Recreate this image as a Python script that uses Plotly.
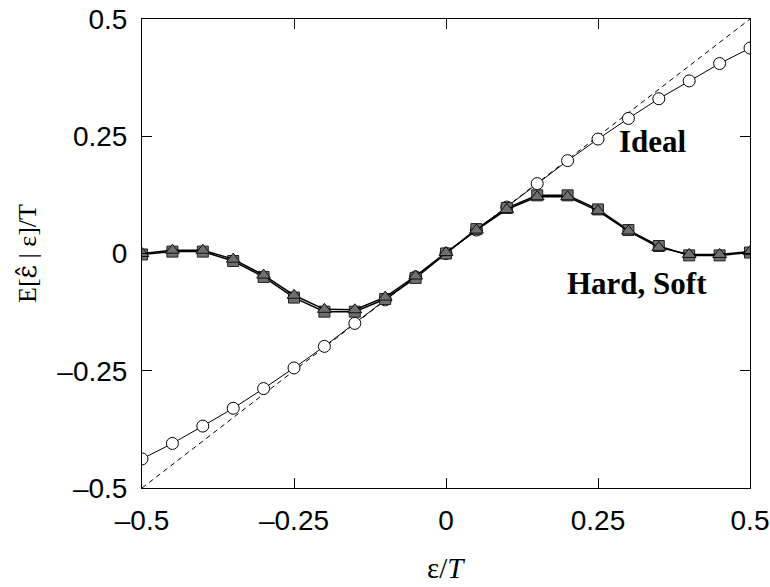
import plotly.graph_objects as go

x_vals = [-0.5, -0.45, -0.4, -0.35, -0.3, -0.25, -0.2, -0.15, -0.1, -0.05, 0.0,
          0.05, 0.1, 0.15, 0.2, 0.25, 0.3, 0.35, 0.4, 0.45, 0.5]
ideal = [-0.438, -0.405, -0.368, -0.330, -0.288, -0.244, -0.198, -0.149, -0.099, -0.050, 0.0,
         0.050, 0.099, 0.149, 0.198, 0.244, 0.288, 0.330, 0.368, 0.405, 0.438]
hard = [-0.002, 0.004, 0.004, -0.016, -0.050, -0.094, -0.124, -0.124, -0.097, -0.052, 0.0,
        0.052, 0.097, 0.124, 0.124, 0.094, 0.050, 0.016, -0.004, -0.004, 0.002]
soft = [0.0, 0.007, 0.007, -0.012, -0.046, -0.089, -0.119, -0.120, -0.093, -0.048, 0.002,
        0.050, 0.094, 0.121, 0.121, 0.091, 0.048, 0.013, -0.002, -0.002, 0.004]
diag_x = [-0.5, 0.5]
diag_y = [-0.5, 0.5]

tick_vals = [-0.5, -0.25, 0, 0.25, 0.5]
tick_text = ["\u20130.5", "\u20130.25", "0", "0.25", "0.5"]

grey = "#6f6f6f"
fig = go.Figure()
fig.add_trace(go.Scatter(x=diag_x, y=diag_y, mode="lines",
                         line=dict(color="black", width=1, dash="5px,4px"), showlegend=False))
fig.add_trace(go.Scatter(x=x_vals, y=ideal, mode="lines+markers",
                         line=dict(color="black", width=1),
                         marker=dict(symbol="circle", size=12, color="white",
                                     line=dict(color="black", width=1)), showlegend=False))
fig.add_trace(go.Scatter(x=x_vals, y=hard, mode="lines+markers",
                         line=dict(color="black", width=1.5),
                         marker=dict(symbol="square", size=11, color=grey,
                                     line=dict(color="#222", width=1)), showlegend=False))
fig.add_trace(go.Scatter(x=x_vals, y=soft, mode="lines+markers",
                         line=dict(color="black", width=1.5),
                         marker=dict(symbol="triangle-up", size=12, color=grey,
                                     line=dict(color="#111", width=1)), showlegend=False))

axis_common = dict(showgrid=False, zeroline=False, showline=True, linecolor="black",
                   linewidth=1, mirror="ticks", ticks="inside", ticklen=10, tickwidth=1,
                   tickcolor="black", tickvals=tick_vals, ticktext=tick_text, automargin=False,
                   ticklabeloverflow="allow",
                   tickfont=dict(family="Liberation Sans", size=28, color="black"))

fig.update_layout(
    width=770, height=587,
    margin=dict(l=142, r=20, t=19, b=99),
    paper_bgcolor="white", plot_bgcolor="white",
    xaxis=dict(range=[-0.5, 0.5], ticklabelstandoff=7, **axis_common),
    yaxis=dict(range=[-0.5, 0.5], ticklabelstandoff=8, **axis_common),
    annotations=[
        dict(xref="paper", yref="paper", x=-0.19, y=0.5,
             text="E[<span style='font-family:DejaVu Serif'>\u03b5\u0302</span> | \u03b5]/T",
             textangle=-90, showarrow=False, xanchor="center", yanchor="middle",
             font=dict(family="Liberation Serif", size=26, color="black")),
        dict(xref="paper", yref="paper", x=0.5, y=-0.17, text="\u03b5/<i>T</i>",
             showarrow=False, xanchor="center", yanchor="middle",
             font=dict(family="Liberation Serif", size=29, color="black")),
        dict(xref="x", yref="y", x=0.282, y=0.238, text="<b>Ideal</b>", showarrow=False,
             xanchor="left", yanchor="middle",
             font=dict(family="Liberation Serif", size=31, color="black")),
        dict(xref="x", yref="y", x=0.195, y=-0.064, text="<b>Hard, Soft</b>", showarrow=False,
             xanchor="left", yanchor="middle",
             font=dict(family="Liberation Serif", size=31, color="black")),
    ],
)

fig.write_html("out.html")
